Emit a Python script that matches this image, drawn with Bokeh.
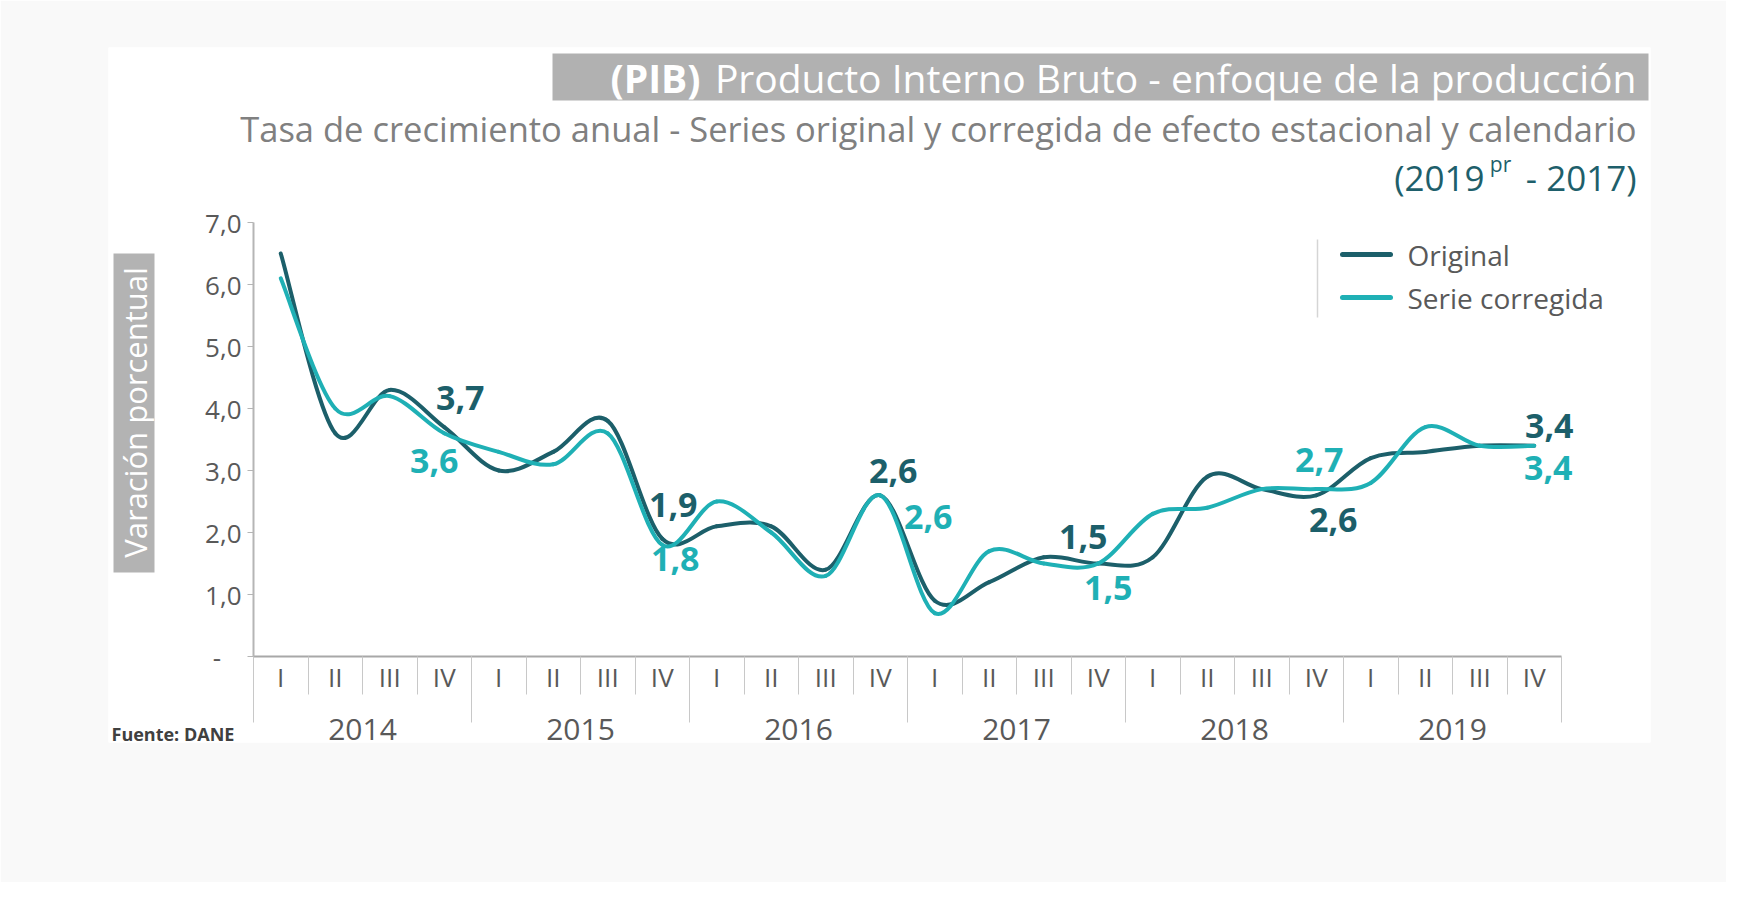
from math import pi
from bokeh.plotting import figure
from bokeh.models import ColumnDataSource, FixedTicker, Range1d
from bokeh.core.properties import value
from bokeh.embed import file_html
from bokeh.resources import INLINE

# ---------------- data ----------------
years = ["2014", "2015", "2016", "2017", "2018", "2019"]
quarters = ["I", "II", "III", "IV"]
original = [6.5, 3.6, 4.3, 3.7, 3.0, 3.3, 3.8, 1.9, 2.1, 2.1, 1.4, 2.6,
            0.9, 1.2, 1.6, 1.5, 1.6, 2.9, 2.7, 2.6, 3.2, 3.3, 3.4, 3.4]
corregida = [6.1, 4.0, 4.2, 3.6, 3.3, 3.1, 3.6, 1.8, 2.5, 2.0, 1.3, 2.6,
             0.7, 1.7, 1.5, 1.5, 2.3, 2.4, 2.7, 2.7, 2.8, 3.7, 3.4, 3.4]
labelled_quarters = [3, 7, 11, 15, 19, 23]
y_ticks = [0, 1, 2, 3, 4, 5, 6, 7]
y_tick_labels = ["-\u00a0\u00a0\u00a0", "1,0", "2,0", "3,0", "4,0", "5,0", "6,0", "7,0"]
legend_labels = ["Original", "Serie corregida"]
title_bold = "(PIB)"
title_rest = "Producto Interno Bruto  - enfoque de la producción"
subtitle = "Tasa de crecimiento anual - Series original y corregida de efecto estacional y calendario"
period_parts = ["(2019", "pr", "- 2017)"]
y_label = "Varación porcentual"
source_note = "Fuente: DANE"

# ---------------- style / layout ----------------
DARK = "#1c5f6a"
LIGHT = "#1fb0b5"
GREY_TXT = "#595959"
PERIOD_COL = "#1e5f6b"
FONT = value("Open Sans")

W, H, PAGE = 1726, 882, 0
FR_L, FR_R, FR_T, FR_B = 108, 1650, 47, 742      # frame in page pixels
X0, XU = 253.0, 54.5                               # page x of x=0, px per quarter
Y0, YU = 656.0, 62.0                               # page y of y=0, px per unit


def px(xp):
    return (xp - X0) / XU


def py(yp):
    return (Y0 - yp) / YU


p = figure(width=W, height=H,
           x_range=Range1d(px(FR_L), px(FR_R)), y_range=Range1d(py(FR_B), py(FR_T)),
           output_backend="svg", toolbar_location=None,
           min_border_left=FR_L - PAGE, min_border_right=PAGE + W - FR_R,
           min_border_top=FR_T - PAGE, min_border_bottom=PAGE + H - FR_B)
p.border_fill_color = "#f9f9f9"
p.background_fill_color = "white"
p.outline_line_color = None
p.xgrid.visible = False
p.ygrid.visible = False

# y axis
ya = p.yaxis[0]
ya.fixed_location = 0
ya.bounds = (0, 7)
ya.ticker = FixedTicker(ticks=y_ticks)
ya.major_label_overrides = dict(zip(y_ticks, y_tick_labels))
ya.axis_line_color = "#b5b5b5"
ya.axis_line_width = 2
ya.major_tick_line_color = "#b5b5b5"
ya.major_tick_out = 6
ya.major_tick_in = 0
ya.minor_tick_line_color = None
ya.major_label_standoff = 6
ya.major_label_text_font = "Open Sans"
ya.major_label_text_font_size = "26px"
ya.major_label_text_color = GREY_TXT

# x axis (separators as ticks)
n = len(original)
xa = p.xaxis[0]
xa.fixed_location = 0
xa.bounds = (0, n)
xa.ticker = FixedTicker(ticks=list(range(0, n + 1, 4)), minor_ticks=list(range(n + 1)))
xa.major_label_overrides = {t: "" for t in range(0, n + 1, 4)}
xa.axis_line_color = "#a8a8a8"
xa.axis_line_width = 2
xa.major_tick_line_color = "#c8c8c8"
xa.minor_tick_line_color = "#c8c8c8"
xa.major_tick_out = 66
xa.major_tick_in = 0
xa.minor_tick_out = 38
xa.minor_tick_in = 0

xs = [i + 0.5 for i in range(n)]

# quarter and year labels
p.text(x=xs, y=[py(676)] * n, text=quarters * len(years), text_font=FONT,
       text_font_size="26px", text_color=GREY_TXT, text_align="center",
       text_baseline="middle")
p.text(x=[4 * k + 2 for k in range(len(years))], y=[py(729)] * len(years), text=years,
       text_font=FONT, text_font_size="30px", text_color=GREY_TXT,
       text_align="center", text_baseline="middle")


# smoothed series (Catmull-Rom style cubic segments through the data points)
def bezier_source(vals):
    d = dict(x0=[], y0=[], x1=[], y1=[], cx0=[], cy0=[], cx1=[], cy1=[])
    for i in range(n - 1):
        a, b = max(i - 1, 0), min(i + 2, n - 1)
        d["x0"].append(xs[i]); d["y0"].append(vals[i])
        d["x1"].append(xs[i + 1]); d["y1"].append(vals[i + 1])
        d["cx0"].append(xs[i] + (xs[i + 1] - xs[a]) / 6)
        d["cy0"].append(vals[i] + (vals[i + 1] - vals[a]) / 6)
        d["cx1"].append(xs[i + 1] - (xs[b] - xs[i]) / 6)
        d["cy1"].append(vals[i + 1] - (vals[b] - vals[i]) / 6)
    return ColumnDataSource(d)


for vals, col in ((original, DARK), (corregida, LIGHT)):
    p.bezier(x0="x0", y0="y0", x1="x1", y1="y1", cx0="cx0", cy0="cy0",
             cx1="cx1", cy1="cy1", source=bezier_source(vals),
             line_color=col, line_width=4, line_cap="round")

# data labels
orig_offsets = [(16, -29), (11, -34), (13, -24), (-15, -27), (17, 25), (15, -20)]
corr_offsets = [(-10, 28), (13, 14), (48, 22), (10, 24), (3, -29), (14, 22)]
for vals, col, offs in ((original, DARK, orig_offsets), (corregida, LIGHT, corr_offsets)):
    src = ColumnDataSource(dict(
        x=[xs[i] for i in labelled_quarters],
        y=[vals[i] for i in labelled_quarters],
        t=[f"{vals[i]:.1f}".replace(".", ",") for i in labelled_quarters],
        dx=[o[0] for o in offs], dy=[o[1] for o in offs]))
    p.text(x="x", y="y", text="t", x_offset="dx", y_offset="dy", source=src,
           text_font=FONT, text_font_style="bold", text_font_size="34px",
           text_color=col, text_align="center", text_baseline="middle")

# legend
p.segment(x0=[px(1317)], y0=[py(239)], x1=[px(1317)], y1=[py(317)],
          line_color="#d5d5d5", line_width=1.5)
leg_y = [py(254), py(297)]
p.segment(x0=[px(1342)] * 2, y0=leg_y, x1=[px(1390)] * 2, y1=leg_y,
          line_color=[DARK, LIGHT], line_width=5, line_cap="round")
p.text(x=[px(1407)] * 2, y=leg_y, text=legend_labels, text_font=FONT,
       text_font_size="28px", text_color=GREY_TXT, text_baseline="middle")

# title block
p.quad(left=[px(552)], right=[px(1648)], top=[py(53)], bottom=[py(100)],
       fill_color="#b1b1b1", line_color=None)
p.text(x=[px(700)], y=[py(77)], text=[title_bold], text_font=FONT,
       text_font_style="bold", text_font_size="39px", text_color="white",
       text_align="right", text_baseline="middle")
p.text(x=[px(1646)], y=[py(77)], text=[title_rest], text_font=FONT,
       text_font_size="39px", text_color="white", text_align="right",
       text_baseline="middle")
p.text(x=[px(1636)], y=[py(128)], text=[subtitle], text_font=FONT,
       text_font_size="34.5px", text_color="#808080", text_align="right",
       text_baseline="middle")
p.text(x=[px(1636)], y=[py(177)], text=[period_parts[2]], text_font=FONT,
       text_font_size="35px", text_color=PERIOD_COL, text_align="right",
       text_baseline="middle")
p.text(x=[px(1500)], y=[py(163)], text=[period_parts[1]], text_font=FONT,
       text_font_size="21px", text_color=PERIOD_COL, text_align="center",
       text_baseline="middle")
p.text(x=[px(1484)], y=[py(177)], text=[period_parts[0]], text_font=FONT,
       text_font_size="35px", text_color=PERIOD_COL, text_align="right",
       text_baseline="middle")

# y label box
p.quad(left=[px(113)], right=[px(154)], top=[py(253)], bottom=[py(572)],
       fill_color="#b3b3b3", line_color=None)
p.text(x=[px(134)], y=[py(412)], text=[y_label], angle=pi / 2, text_font=FONT,
       text_font_size="31px", text_color="white", text_align="center",
       text_baseline="middle")

# source
p.text(x=[px(111)], y=[py(733)], text=[source_note], text_font=FONT,
       text_font_style="bold", text_font_size="18px", text_color="#404040",
       text_baseline="middle")

open("out.html", "w").write(file_html(p, INLINE))
